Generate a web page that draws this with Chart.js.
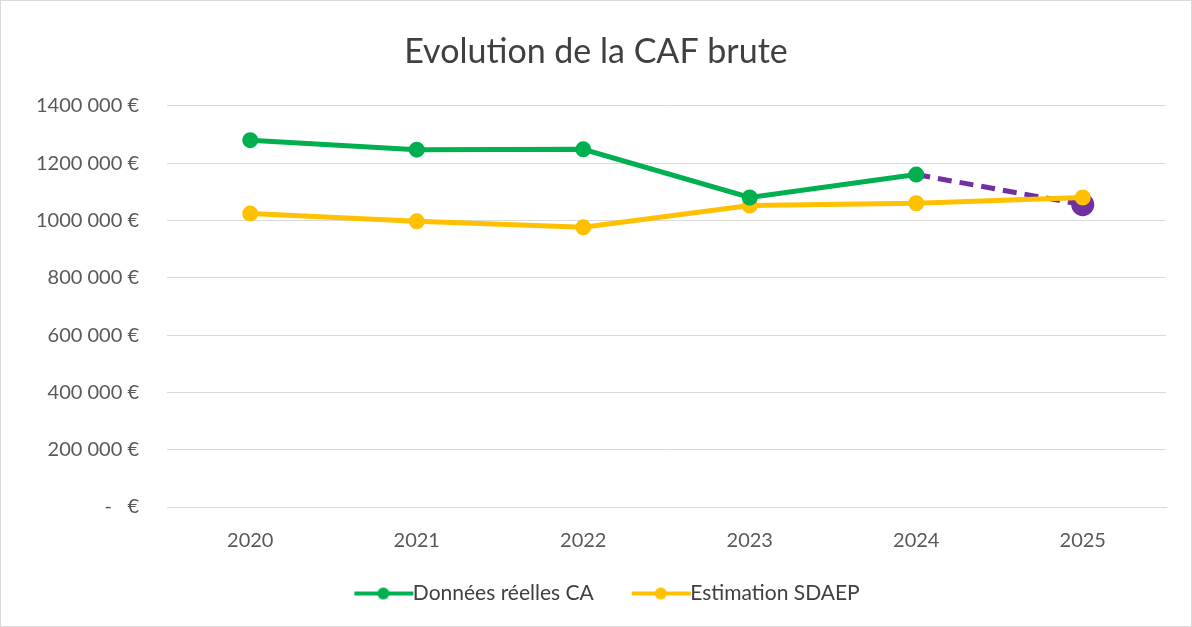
<!DOCTYPE html>
<html>
<head>
<meta charset="utf-8">
<script src="https://cdn.jsdelivr.net/npm/chart.js@4"></script>
<style>
  html, body { margin: 0; padding: 0; background: #fff; }
  #wrap { position: relative; width: 1192px; height: 627px; box-sizing: border-box; border: 1px solid #d9d9d9; }
  canvas { display: block; }
</style>
</head>
<body>
<div id="wrap"><canvas id="caf" width="1190" height="625"></canvas></div>
<script>
// années et valeurs (en €)
var annees = ['2020', '2021', '2022', '2023', '2024', '2025'];
var reelles = [1280000, 1247000, 1248000, 1080000, 1160000, null];
var estimation = [1024000, 997000, 976000, 1052000, 1060000, 1080000];
var projection = [null, null, null, null, 1160000, 1055000];

var vert = '#00B050', jaune = '#FFC000', violet = '#7030A0';

// petit trait avec point pour la légende (décalé à droite pour toucher le texte)
function marqueur(couleur) {
  var c = document.createElement('canvas');
  c.width = 94; c.height = 14;
  var g = c.getContext('2d');
  g.strokeStyle = couleur; g.lineWidth = 4;
  g.beginPath(); g.moveTo(34, 7); g.lineTo(93, 7); g.stroke();
  g.fillStyle = couleur;
  g.beginPath(); g.arc(63, 7, 6, 0, Math.PI * 2); g.fill();
  return c;
}

function euros(v) {
  if (v === 0) return '-   €';
  return Math.floor(v / 1000) + ' 000 €';
}

var ctx = document.getElementById('caf');
new Chart(ctx, {
  type: 'line',
  data: {
    labels: annees,
    datasets: [
      {
        label: 'Données réelles CA',
        data: reelles,
        borderColor: vert, backgroundColor: vert,
        borderWidth: 5, pointRadius: 5.5, pointHoverRadius: 5.5,
        order: 0
      },
      {
        label: 'Estimation SDAEP',
        data: estimation,
        borderColor: jaune, backgroundColor: jaune,
        borderWidth: 5, pointRadius: 5.5, pointHoverRadius: 5.5,
        order: 1
      },
      {
        label: 'projection',
        data: projection,
        borderColor: violet, backgroundColor: violet,
        borderWidth: 5, borderDash: [14, 8],
        pointRadius: [0, 0, 0, 0, 0, 9],
        order: 2
      }
    ]
  },
  options: {
    responsive: false,
    animation: false,
    layout: { padding: { left: 25, right: 25, top: 14, bottom: 12 } },
    plugins: {
      title: {
        display: true,
        text: 'Evolution de la CAF brute',
        color: '#404040',
        font: { family: 'Lato', size: 34, weight: 'normal' },
        padding: { top: 17, bottom: 33 }
      },
      legend: {
        position: 'bottom',
        labels: {
          color: '#404040',
          font: { family: 'Lato', size: 21 },
          usePointStyle: true,
          pointStyleWidth: 70,
          padding: 16,
          filter: function(item) { return item.datasetIndex < 2; },
          generateLabels: function(chart) {
            var items = Chart.defaults.plugins.legend.labels.generateLabels(chart);
            items.forEach(function(it) {
              it.pointStyle = marqueur(it.datasetIndex === 0 ? vert : jaune);
            });
            return items;
          }
        }
      },
      tooltip: { enabled: false }
    },
    scales: {
      x: {
        offset: true,
        grid: { display: false },
        border: { display: true, color: '#d9d9d9' },
        ticks: { color: '#595959', font: { family: 'Lato', size: 20 }, padding: 14 }
      },
      y: {
        min: 0, max: 1400000,
        afterFit: function(s) { s.width = 141; },
        ticks: {
          stepSize: 200000,
          color: '#595959',
          font: { family: 'Lato', size: 20 },
          padding: 28,
          callback: euros
        },
        grid: { color: '#d9d9d9', drawTicks: false },
        border: { display: false }
      }
    }
  }
});
</script>
</body>
</html>
